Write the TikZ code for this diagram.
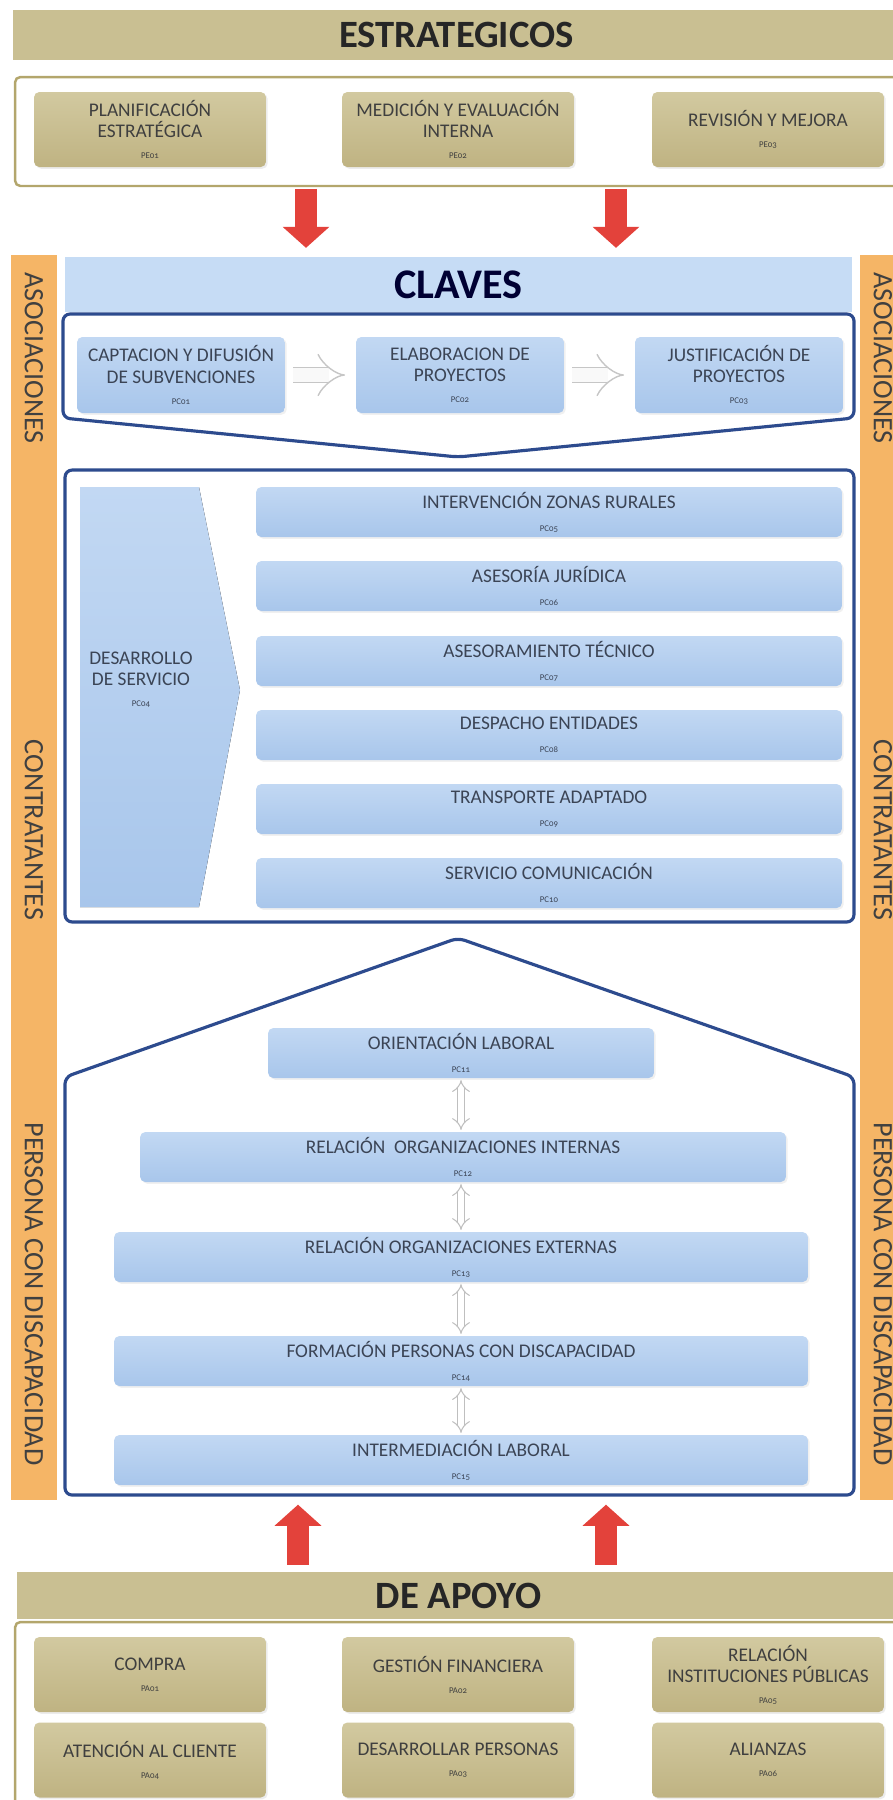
\documentclass[tikz,border=0pt]{standalone}
\usepackage{fontspec}
\setmainfont{Carlito}
\usepackage{xcolor}
\usetikzlibrary{positioning}
\usetikzlibrary{arrows.meta}
\usetikzlibrary{shadows}
\definecolor{khaki}{HTML}{C9BF92}
\definecolor{khakitop}{HTML}{D2C9A0}
\definecolor{khakibot}{HTML}{BFB382}
\definecolor{khakiline}{HTML}{B3A66C}
\definecolor{skyband}{HTML}{C6DCF5}
\definecolor{skytop}{HTML}{C2D8F3}
\definecolor{skybot}{HTML}{A8C6EB}
\definecolor{frameblue}{HTML}{2D4B8E}
\definecolor{bandorange}{HTML}{F5B566}
\definecolor{flowred}{HTML}{E3423B}
\definecolor{inkgray}{HTML}{3F3F3F}
\definecolor{inkblue}{HTML}{3B4455}
\newcommand{\pcode}[1]{\\{\fontsize{5}{6}\selectfont\addfontfeatures{Numbers=OldStyle}#1}}
\tikzset{
titleband/.style={fill=#1, inner sep=0pt, minimum height=1cm,
	font=\fontsize{22}{22}\selectfont\bfseries, text=black!85},
khakibox/.style={top color=khakitop, bottom color=khakibot, rounded corners=3pt,
	inner sep=0pt, minimum width=4.64cm, minimum height=1.5cm, align=center,
	font=\fontsize{11}{12}\selectfont, text=inkgray,
	drop shadow={opacity=0.15, shadow xshift=1pt, shadow yshift=-1pt}},
skybox/.style={top color=skytop, bottom color=skybot, rounded corners=3pt,
	inner sep=0pt, minimum height=1cm, align=center,
	font=\fontsize{11}{13}\selectfont, text=inkblue,
	drop shadow={opacity=0.12, shadow xshift=1pt, shadow yshift=-1pt}},
sideband/.style={fill=bandorange, inner sep=0pt, minimum width=0.92cm, minimum height=24.9cm},
sidetext/.style={rotate=-90, font=\fontsize{16}{16}\selectfont, text=black!75},
frame/.style={draw=frameblue, line width=1.8pt, rounded corners=4pt},
redflow/.style={draw=flowred, line width=13pt, -{Triangle[length=12pt, width=26pt]}},
hollowflow/.style={draw=gray!45, double=gray!5, line width=0.8pt, double distance=8pt, -{Implies}},
dblflow/.style={draw=gray!50, double=white, line width=0.6pt, double distance=3pt, {Implies}-{Implies}},
}

\begin{document}
\begin{tikzpicture}[x=0.02cm, y=-0.02cm]
	\useasboundingbox (0,0) rectangle (893,1800);
	
	% orange side bands
	\node[sideband] (leftband) at (34,877.5) {};
	\node[sideband] (rightband) at (883,877.5) {};
	\node[sidetext] (lasoc) at (34,358) {ASOCIACIONES};
	\node[sidetext] (lcont) at (34,830) {CONTRATANTES};
	\node[sidetext] (lpers) at (34,1294) {PERSONA CON DISCAPACIDAD};
	\node[sidetext] (rasoc) at (883,358) {ASOCIACIONES};
	\node[sidetext] (rcont) at (883,830) {CONTRATANTES};
	\node[sidetext] (rpers) at (883,1294) {PERSONA CON DISCAPACIDAD};
	
	% estrategicos
	\node[titleband=khaki, minimum width=17.74cm] (estr) at (456.5,35) {ESTRATEGICOS};
	\node[draw=khakiline, line width=1.4pt, rounded corners=3pt, minimum width=17.7cm, minimum height=2.18cm] (stratframe) at (457.5,131.5) {};
	\node[khakibox] (pe1) at (150,129.5) {PLANIFICACIÓN\\ESTRATÉGICA\pcode{PE01}};
	\node[khakibox] (pe2) at (458,129.5) {MEDICIÓN Y EVALUACIÓN\\INTERNA\pcode{PE02}};
	\node[khakibox] (pe3) at (768,129.5) {REVISIÓN Y MEJORA\pcode{PE03}};
	
	% claves
	\node[titleband=skyband, minimum width=15.74cm, minimum height=1.1cm, font=\fontsize{24}{24}\selectfont\bfseries, text=black!80!blue] (claves) at (458.5,284.5) {CLAVES};
	\draw[frame] (63,314) -- (854,314) -- (854,418) -- (458,457) -- (63,418) -- cycle;
	\node[skybox, minimum width=4.16cm, minimum height=1.52cm, font=\fontsize{11}{12}\selectfont] (pc1) at (181,375) {CAPTACION Y DIFUSIÓN\\DE SUBVENCIONES\pcode{PC01}};
	\node[skybox, minimum width=4.16cm, minimum height=1.52cm, font=\fontsize{11}{12}\selectfont] (pc2) at (460,375) {ELABORACION DE\\PROYECTOS\pcode{PC02}};
	\node[skybox, minimum width=4.16cm, minimum height=1.52cm, font=\fontsize{11}{12}\selectfont] (pc3) at (739,375) {JUSTIFICACIÓN DE\\PROYECTOS\pcode{PC03}};
	\draw[hollowflow, shorten <=4.5pt, shorten >=6pt] (pc1) -- (pc2);
	\draw[hollowflow, shorten <=4.5pt, shorten >=6pt] (pc2) -- (pc3);
	
	% desarrollo de servicio
	\node[frame, minimum width=15.78cm, minimum height=9.04cm] (servframe) at (459.5,696) {};
	\fill[top color=skytop, bottom color=skybot] (80,487) -- (199,487) -- (240,690) -- (199,907) -- (80,907) -- cycle;
	\node[align=center, font=\fontsize{11}{12}\selectfont, text=inkblue] (pc4) at (141,680) {DESARROLLO\\DE SERVICIO\pcode{PC04}};
	\node[skybox, minimum width=11.72cm] (pc5) at (549,512) {INTERVENCIÓN ZONAS RURALES\pcode{PC05}};
	\node[skybox, minimum width=11.72cm] (pc6) at (549,586) {ASESORÍA JURÍDICA\pcode{PC06}};
	\node[skybox, minimum width=11.72cm] (pc7) at (549,661) {ASESORAMIENTO TÉCNICO\pcode{PC07}};
	\node[skybox, minimum width=11.72cm] (pc8) at (549,735) {DESPACHO ENTIDADES\pcode{PC08}};
	\node[skybox, minimum width=11.72cm] (pc9) at (549,809) {TRANSPORTE ADAPTADO\pcode{PC09}};
	\node[skybox, minimum width=11.72cm] (pc10) at (549,883) {SERVICIO COMUNICACIÓN\pcode{PC10}};
	
	% empleo
	\coordinate (pbl) at (65,1495);
	\draw[frame] (65,1077) -- (458,938) -- (854,1077) -- (854,1495) -- (pbl) -- cycle;
	\node[skybox, minimum width=7.72cm] (pc11) at (461,1053) {ORIENTACIÓN LABORAL\pcode{PC11}};
	\node[skybox, minimum width=12.92cm] (pc12) at (463,1157) {RELACIÓN~~ORGANIZACIONES INTERNAS\pcode{PC12}};
	\node[skybox, minimum width=13.88cm] (pc13) at (461,1257) {RELACIÓN ORGANIZACIONES EXTERNAS\pcode{PC13}};
	\node[skybox, minimum width=13.88cm] (pc14) at (461,1361) {FORMACIÓN PERSONAS CON DISCAPACIDAD\pcode{PC14}};
	\node[skybox, minimum width=13.88cm] (pc15) at (461,1460) {INTERMEDIACIÓN LABORAL\pcode{PC15}};
	\draw[dblflow, shorten <=1pt, shorten >=1pt] (pc11.south) -- (pc11.south |- pc12.north);
	\draw[dblflow, shorten <=1pt, shorten >=1pt] (pc12.south -| pc11) -- (pc13.north);
	\draw[dblflow, shorten <=1pt, shorten >=1pt] (pc13.south) -- (pc14.north);
	\draw[dblflow, shorten <=1pt, shorten >=1pt] (pc14.south) -- (pc15.north);
	
	% de apoyo
	\node[titleband=khaki, minimum width=17.66cm, minimum height=0.94cm] (apoyo) at (458.5,1595.5) {DE APOYO};
	\node[draw=khakiline, line width=1.4pt, rounded corners=3pt, minimum width=17.7cm, minimum height=3.76cm] (apoyoframe) at (457.5,1716) {};
	\node[khakibox] (pa1) at (150,1674.5) {COMPRA\pcode{PA01}};
	\node[khakibox] (pa2) at (458,1674.5) {GESTIÓN FINANCIERA\pcode{PA02}};
	\node[khakibox] (pa5) at (768,1674.5) {RELACIÓN\\INSTITUCIONES PÚBLICAS\pcode{PA05}};
	\node[khakibox] (pa4) at (150,1760) {ATENCIÓN AL CLIENTE\pcode{PA04}};
	\node[khakibox] (pa3) at (458,1760) {DESARROLLAR PERSONAS\pcode{PA03}};
	\node[khakibox] (pa6) at (768,1760) {ALIANZAS\pcode{PA06}};
	
	% red arrows
	\coordinate (ra1) at (306,0);
	\coordinate (ra2) at (616,0);
	\coordinate (ra3) at (298,0);
	\coordinate (ra4) at (606,0);
	\draw[redflow, shorten <=1pt, shorten >=5pt] (stratframe.south -| ra1) -- (claves.north -| ra1);
	\draw[redflow, shorten <=1pt, shorten >=5pt] (stratframe.south -| ra2) -- (claves.north -| ra2);
	\draw[redflow, shorten <=4pt, shorten >=5.5pt] (apoyo.north -| ra3) -- (pbl -| ra3);
	\draw[redflow, shorten <=4pt, shorten >=5.5pt] (apoyo.north -| ra4) -- (pbl -| ra4);
\end{tikzpicture}
\end{document}
